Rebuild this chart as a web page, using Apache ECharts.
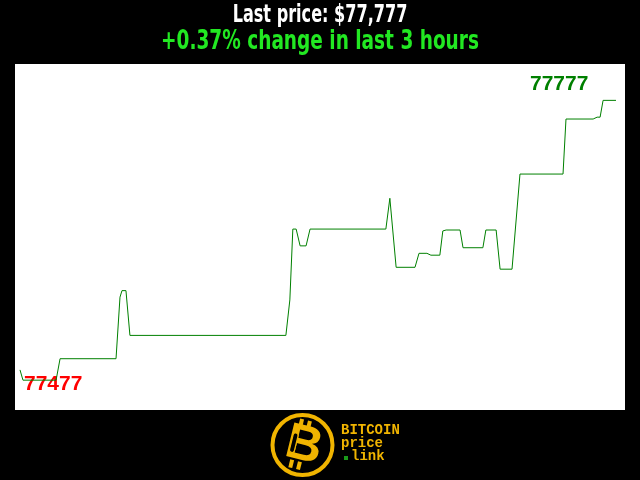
<!DOCTYPE html>
<html>
<head>
<meta charset="utf-8">
<script src="https://cdn.jsdelivr.net/npm/echarts@6/dist/echarts.min.js"></script>
<style>
html,body{margin:0;padding:0;background:#000;}
#chart{width:640px;height:480px;}
</style>
</head>
<body>
<div id="chart"></div>
<script>
// minutes since start of 3-hour window
var minutes = [0, 0.9, 10.9, 12.1, 29.0, 30.2, 30.8, 32.0, 33.2, 80.3, 81.5, 82.4, 83.4, 84.6, 86.4, 87.6,
  110.5, 111.7, 113.6, 119.3, 120.5, 122.9, 124.1, 126.8, 127.7, 128.7, 132.9, 133.8, 139.8, 140.7,
  143.8, 145.0, 148.6, 151.0, 164.0, 164.9, 173.1, 174.3, 175.2, 176.1, 180];
var prices = [77488, 77477, 77477, 77500, 77500, 77566, 77573, 77573, 77525, 77525, 77563, 77639, 77639, 77621, 77621, 77639,
  77639, 77672, 77598, 77598, 77613, 77613, 77611, 77611, 77637, 77638, 77638, 77619, 77619, 77638,
  77638, 77596, 77596, 77698, 77698, 77757, 77757, 77759, 77759, 77777, 77777];
var lastPriceText = 'Last price: $77,777';
var changeText = '+0.37% change in last 3 hours';
var maxLabel = '77777';
var minLabel = '77477';

var chart = echarts.init(document.getElementById('chart'));
var data = minutes.map(function (m, i) { return [m, prices[i]]; });
var titleFont = '"DejaVu Sans Condensed", "DejaVu Sans", sans-serif';
var gold = '#f0b400';
chart.setOption({
  animation: false,
  backgroundColor: '#000',
  grid: { left: 15, right: 15, top: 64, bottom: 70, show: true, backgroundColor: '#fff', borderWidth: 0 },
  xAxis: { type: 'value', min: -1.51, max: 182.72, show: false },
  yAxis: { type: 'value', min: 77445, max: 77816, show: false },
  series: [{
    type: 'line', data: data, symbol: 'none', silent: true,
    lineStyle: { color: '#008000', width: 1 }
  }],
  graphic: [
    { type: 'text', x: 320, y: 16, scaleX: 0.745, style: { text: lastPriceText, fill: '#fff', font: 'bold 24px ' + titleFont, align: 'center', verticalAlign: 'middle' } },
    { type: 'text', x: 320, y: 42, scaleX: 0.762, style: { text: changeText, fill: '#22e822', font: 'bold 27px ' + titleFont, align: 'center', verticalAlign: 'middle' } },
    { type: 'text', x: 530, y: 84, style: { text: maxLabel, fill: '#008000', font: 'bold 21px "Liberation Sans", Arial, sans-serif', align: 'left', verticalAlign: 'middle' } },
    { type: 'text', x: 24, y: 384, style: { text: minLabel, fill: '#ff0000', font: 'bold 21px "Liberation Sans", Arial, sans-serif', align: 'left', verticalAlign: 'middle' } },
    // logo
    { type: 'circle', shape: { cx: 302.5, cy: 445, r: 30 }, style: { fill: '#000', stroke: gold, lineWidth: 4 } },
    { type: 'group', x: 303, y: 445, rotation: -0.24, children: [
      { type: 'rect', shape: { x: -9, y: -25, width: 4, height: 8 }, style: { fill: gold } },
      { type: 'rect', shape: { x: -1, y: -25, width: 4, height: 8 }, style: { fill: gold } },
      { type: 'rect', shape: { x: -9, y: 17, width: 4, height: 8 }, style: { fill: gold } },
      { type: 'rect', shape: { x: -1, y: 17, width: 4, height: 8 }, style: { fill: gold } },
      { type: 'text', x: 1, y: 1, style: { text: 'B', fill: gold, font: 'bold 50px "Liberation Sans", Arial, sans-serif', align: 'center', verticalAlign: 'middle' } },
      { type: 'rect', shape: { x: -12, y: -10, width: 5, height: 20, r: 2.5 }, style: { fill: '#000', stroke: gold, lineWidth: 1.2 } }
    ] },
    { type: 'text', x: 341, y: 430.5, style: { text: 'BITCOIN', fill: gold, font: 'bold 14px "Liberation Mono", monospace', align: 'left', verticalAlign: 'middle' } },
    { type: 'text', x: 341, y: 443, style: { text: 'price', fill: gold, font: 'bold 14px "Liberation Mono", monospace', align: 'left', verticalAlign: 'middle' } },
    { type: 'rect', shape: { x: 344, y: 456, width: 4, height: 4 }, style: { fill: '#1a9a1a' } },
    { type: 'text', x: 351, y: 456, style: { text: 'link', fill: gold, font: 'bold 14px "Liberation Mono", monospace', align: 'left', verticalAlign: 'middle' } }
  ]
});
</script>
</body>
</html>
